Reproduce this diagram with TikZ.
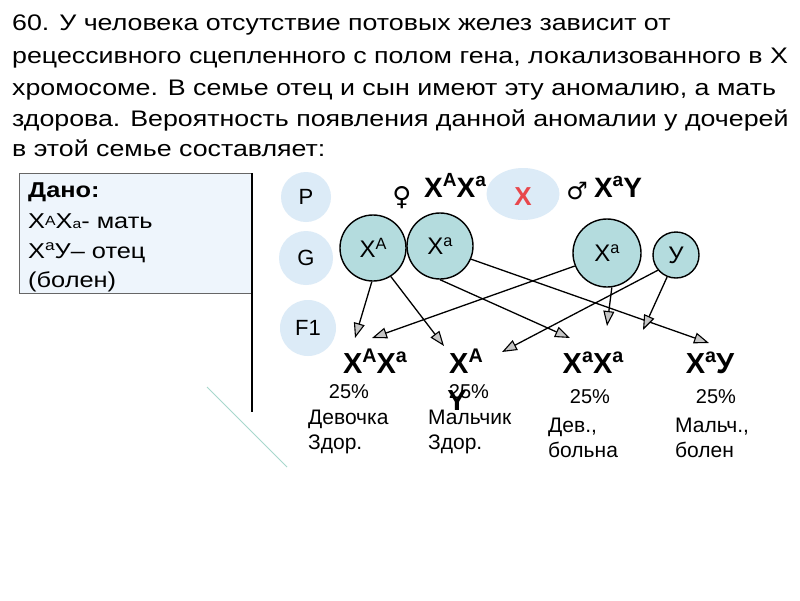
\documentclass[tikz,border=0pt]{standalone}
\usepackage{fontspec}
\usepackage{graphicx}
\setmainfont{Liberation Sans}
\newfontfamily\widefont[FakeStretch=1.18]{Liberation Sans}
\newfontfamily\titlefont[FakeStretch=1.19]{Liberation Sans}
\newfontfamily\symfont{DejaVu Sans}
\usetikzlibrary{arrows.meta,shapes.geometric}
\definecolor{gamfill}{HTML}{B4DCDE}
\definecolor{lblue}{HTML}{DCEBF7}
\definecolor{boxfill}{HTML}{EEF5FC}
\definecolor{redx}{HTML}{E8474C}
\definecolor{tealline}{HTML}{A8D8CC}
\newcommand\upx[1]{\raisebox{0.36em}{\scalebox{0.68}{#1}}}
\newcommand\midx[1]{\raisebox{0.12em}{\scalebox{0.62}{#1}}}
\newcommand\lowx[1]{\scalebox{0.62}{#1}}
\begin{document}
\begin{tikzpicture}[x=1pt,y=-1pt,
  title/.style={anchor=base west, inner sep=0pt, font=\fontsize{22.5}{22.5}\selectfont\titlefont},
  boxtext/.style={anchor=base west, inner sep=0pt, font=\fontsize{21.5}{21.5}\selectfont\widefont},
  gam/.style={circle, draw=black, line width=1.4pt, fill=gamfill, inner sep=0pt, font=\fontsize{24}{24}\selectfont},
  gen/.style={circle, fill=lblue, inner sep=0pt, font=\fontsize{22}{22}\selectfont},
  parent/.style={anchor=base, inner sep=0pt, font=\fontsize{28}{28}\selectfont\bfseries},
  off/.style={anchor=base, inner sep=0pt, font=\fontsize{29}{29}\selectfont\bfseries},
  pct/.style={anchor=base, inner sep=0pt, font=\fontsize{20}{20}\selectfont},
  note/.style={anchor=base west, inner sep=0pt, font=\fontsize{21}{21}\selectfont},
  arr/.style={line width=1.3pt, -{Triangle[length=15pt,width=11pt,fill=gray!45,line width=1.1pt]}}
]
\useasboundingbox (0,0) rectangle (800,600);
\fill[white] (0,0) rectangle (800,600);

% title
\node[title] (t1) at (12,30) {60. У человека отсутствие потовых желез зависит от};
\node[title] (t2) at (12,63) {рецессивного сцепленного с полом гена, локализованного в Х};
\node[title] (t3) at (12,95) {хромосоме. В семье отец и сын имеют эту аномалию, а мать};
\node[title] (t4) at (12,126) {здорова. Вероятность появления данной аномалии у дочерей};
\node[title] (t5) at (12,156) {в этой семье составляет:};

% given box
\draw[fill=boxfill, draw=gray!80!black, line width=0.8pt] (19,173) rectangle (252,293);
\draw[line width=2pt] (252,173) -- (252,412);
\draw[tealline, line width=1pt] (207,387) -- (287,467);
\node[boxtext, font=\fontsize{21.5}{21.5}\selectfont\widefont\bfseries] (d0) at (28,197) {Дано:};
\node[boxtext] (d1) at (28,228) {Х\midx{А}Х\lowx{а}- мать};
\node[boxtext] (d2) at (28,258) {Х\upx{а}У– отец};
\node[boxtext] (d3) at (28,287) {(болен)};

% generation labels
\node[gen, minimum size=50pt] (P) at (306,197) {P};
\node[gen, minimum size=54pt] (G) at (306,258) {G};
\node[gen, minimum size=56pt] (F) at (308,328) {F1};

% parents
\node[anchor=base, inner sep=0pt, font=\fontsize{26}{26}\selectfont\symfont] (fem) at (402,205) {♀};
\node[parent] (mom) at (455,197) {X\upx{A}X\upx{a}};
\node[ellipse, fill=lblue, minimum width=73pt, minimum height=52pt, inner sep=0pt] (cross) at (523,194) {};
\node[anchor=base, inner sep=0pt, font=\fontsize{26}{26}\selectfont\bfseries, text=redx] (xx) at (523,205) {X};
\node[anchor=base, inner sep=0pt, font=\fontsize{24}{24}\selectfont\symfont] (mal) at (577,199) {♂};
\node[parent] (dad) at (618,197) {X\upx{a}Y};

% gametes
\node[gam, minimum size=66pt] (gA) at (373,248) {X\upx{A}};
\node[gam, minimum size=66pt] (ga) at (440,246) {X\upx{a}};
\node[gam, minimum size=68pt] (fa) at (607,253) {X\upx{a}};
\node[gam, minimum size=46pt] (fy) at (676,255) {У};

% offspring
\node[off] (o1) at (375,373) {X\upx{A}X\upx{a}};
\node[off] (o2) at (466,373) {X\upx{A}};
\node[off] (o2y) at (457,410) {Y};
\node[off] (o3) at (593,373) {X\upx{a}X\upx{a}};
\node[off] (o4) at (710,373) {X\upx{a}У};

\node[pct] (p1) at (349,398) {25\%};
\node[pct] (p2) at (469,398) {25\%};
\node[pct] (p3) at (590,403) {25\%};
\node[pct] (p4) at (716,403) {25\%};

\node[note] (n1a) at (308,424) {Девочка};
\node[note] (n1b) at (308,449) {Здор.};
\node[note] (n2a) at (428,424) {Мальчик};
\node[note] (n2b) at (428,449) {Здор.};
\node[note] (n3a) at (548,432) {Дев.,};
\node[note] (n3b) at (548,457) {больна};
\node[note] (n4a) at (675,432) {Мальч.,};
\node[note] (n4b) at (675,457) {болен};

% arrow tips
\coordinate (e1) at (355,338);
\coordinate (e2) at (444,346);
\coordinate (e3) at (372,338);
\coordinate (e4) at (570,338);
\coordinate (e5) at (709,343);
\coordinate (e6) at (607,326);
\coordinate (e7) at (502,352);
\coordinate (e8) at (643,330);

\draw[arr] (gA.-92) -- (e1);
\draw[arr] (gA.-58) -- (e2);
\draw[arr] (fa.-158) -- (e3);
\draw[arr] (ga.-90) -- (e4);
\draw[arr] (ga.-23) -- (e5);
\draw[arr] (fa.-82) -- (e6);
\draw[arr] (fy.-140) -- (e7);
\draw[arr] (fy.-112) -- (e8);
\end{tikzpicture}
\end{document}
